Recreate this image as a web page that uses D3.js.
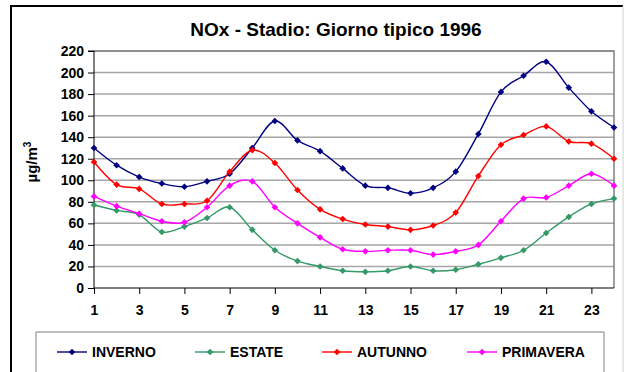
<!DOCTYPE html>
<html lang="it">
<head>
<meta charset="UTF-8">
<title>NOx - Stadio</title>
<script src="https://cdn.jsdelivr.net/npm/d3@7"></script>
<style>
    body { margin: 0; background: #fff; }
    svg { display: block; font-family: "Liberation Sans", Arial, sans-serif; }
    .axis text { font-size: 14px; font-weight: bold; fill: #000; }
    .axis path, .axis line { stroke: #000; }
</style>
</head>
<body>
<div id="chart"></div>
<script>
// ore del giorno
var hours = d3.range(1, 25);
var xTicks = [1, 3, 5, 7, 9, 11, 13, 15, 17, 19, 21, 23];
var yTicks = [0, 20, 40, 60, 80, 100, 120, 140, 160, 180, 200, 220];

var seriesNames = ["INVERNO", "ESTATE", "AUTUNNO", "PRIMAVERA"];
var seriesColors = ["#000080", "#339966", "#FF0000", "#FF00FF"];

var inverno = [130, 114, 103, 97, 94, 99, 106, 130, 155, 137, 127, 111,
               95, 93, 88, 93, 108, 143, 182, 197, 210, 186, 164, 149];
var estate = [77, 72, 68, 52, 57, 65, 75, 54, 35, 25, 20, 16,
              15, 16, 20, 16, 17, 22, 28, 35, 51, 66, 78, 83];
var autunno = [117, 96, 92, 78, 78, 81, 108, 128, 116, 91, 73, 64,
               59, 57, 54, 58, 70, 104, 133, 142, 150, 136, 134, 120];
var primavera = [85, 76, 69, 62, 61, 75, 95, 99, 75, 60, 47, 36,
                 34, 35, 35, 31, 34, 40, 62, 83, 84, 95, 106, 95];

var seriesValues = [inverno, estate, autunno, primavera];

var width = 624, height = 372;
var plot = {left: 94, right: 614, top: 51, bottom: 288};

var svg = d3.select("#chart").append("svg")
    .attr("width", width)
    .attr("height", height);

// bordo esterno
svg.append("path")
    .attr("d", "M11,372 L11,6 L623,6")
    .attr("fill", "none")
    .attr("stroke", "#000")
    .attr("stroke-width", 2);
svg.append("line")
    .attr("x1", 623).attr("x2", 623).attr("y1", 6).attr("y2", 372)
    .attr("stroke", "#d0d0d0");

var x = d3.scaleLinear().domain([1, 24]).range([plot.left, plot.right]);
var y = d3.scaleLinear().domain([0, 220]).range([plot.bottom, plot.top]);

// griglia
svg.append("g")
    .selectAll("line")
    .data(yTicks.filter(function (d) { return d > 0; }))
    .enter().append("line")
    .attr("x1", plot.left).attr("x2", plot.right)
    .attr("y1", function (d) { return y(d); })
    .attr("y2", function (d) { return y(d); })
    .attr("stroke", "#a6a6a6")
    .attr("stroke-width", 1.5);

// bordo area grafico (alto e destra)
svg.append("path")
    .attr("d", "M" + plot.left + "," + plot.top + " L" + plot.right + "," + plot.top + " L" + plot.right + "," + plot.bottom)
    .attr("fill", "none")
    .attr("stroke", "#808080")
    .attr("stroke-width", 1.5);

var yAxis = d3.axisLeft(y).tickValues(yTicks).tickSize(6).tickPadding(4);
svg.append("g")
    .attr("class", "axis")
    .attr("transform", "translate(" + plot.left + ",0)")
    .call(yAxis)
    .call(function (g) { g.select(".domain").attr("d", "M-6," + plot.top + "H0V" + plot.bottom); });

var xAxis = d3.axisBottom(x).tickValues(xTicks).tickFormat(d3.format("d")).tickSize(6).tickPadding(11);
svg.append("g")
    .attr("class", "axis")
    .attr("transform", "translate(0," + plot.bottom + ")")
    .call(xAxis)
    .call(function (g) { g.select(".domain").attr("d", "M" + plot.left + ",0H" + plot.right); });

var line = d3.line()
    .x(function (d, i) { return x(hours[i]); })
    .y(function (d) { return y(d); })
    .curve(d3.curveCardinal.tension(0));

var diamond = d3.symbol().type(d3.symbolDiamond2).size(28);

seriesValues.forEach(function (vals, k) {
    var g = svg.append("g");
    g.append("path")
        .attr("d", line(vals))
        .attr("fill", "none")
        .attr("stroke", seriesColors[k])
        .attr("stroke-width", 1.4);
    g.selectAll("path.m")
        .data(vals)
        .enter().append("path")
        .attr("class", "m")
        .attr("d", diamond)
        .attr("transform", function (d, i) { return "translate(" + x(hours[i]) + "," + y(d) + ")"; })
        .attr("fill", seriesColors[k]);
});

// titolo
svg.append("text")
    .attr("x", 336)
    .attr("y", 36)
    .attr("text-anchor", "middle")
    .attr("font-size", 19)
    .attr("font-weight", "bold")
    .text("NOx - Stadio: Giorno tipico 1996");

// etichetta asse y
var ylab = svg.append("text")
    .attr("transform", "translate(37,162) rotate(-90)")
    .attr("text-anchor", "middle")
    .attr("font-size", 15)
    .attr("font-weight", "bold");
ylab.append("tspan").text("µg/m");
ylab.append("tspan").attr("dy", -6).attr("font-size", 10).text("3");

// legenda
svg.append("path")
    .attr("d", "M36,372 V332 H604 V372")
    .attr("fill", "#fff")
    .attr("stroke", "#808080")
    .attr("stroke-width", 1);

var legendX = [57, 195, 322, 467];
seriesNames.forEach(function (name, k) {
    var lg = svg.append("g").attr("transform", "translate(" + legendX[k] + ",352)");
    lg.append("line")
        .attr("x1", 0).attr("x2", 30)
        .attr("stroke", seriesColors[k])
        .attr("stroke-width", 1.4);
    lg.append("path")
        .attr("d", diamond)
        .attr("transform", "translate(15,0)")
        .attr("fill", seriesColors[k]);
    lg.append("text")
        .attr("x", 35)
        .attr("y", 5)
        .attr("font-size", 14)
        .attr("font-weight", "bold")
        .text(name);
});
</script>
</body>
</html>
